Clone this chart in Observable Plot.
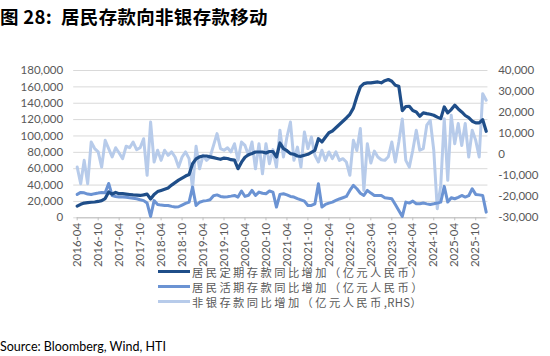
<!DOCTYPE html>
<html>
<head>
<meta charset="utf-8">
<script src="https://cdn.jsdelivr.net/npm/d3@7"></script>
<script src="https://cdn.jsdelivr.net/npm/@observablehq/plot@0.6"></script>
<style>
  html, body { margin: 0; padding: 0; background: #fff; }
  body { width: 550px; height: 356px; position: relative; overflow: hidden; font-family: Lato, "Noto Sans CJK SC", sans-serif; }
  #title { position: absolute; left: 0; top: 3px; font-family: "Noto Sans CJK SC", sans-serif; font-weight: bold; font-size: 18.5px; color: #000; white-space: nowrap; letter-spacing: 0.3px; }
  #chart { position: absolute; left: 0; top: 30px; }
  #legend { position: absolute; left: 158px; top: 264px; font-family: "Noto Sans CJK SC", sans-serif; font-size: 11.3px; color: #595959; }
  .row { height: 15px; display: flex; align-items: center; white-space: nowrap; }
  .sw { width: 32px; height: 3px; margin-right: 2px; }
  .tx { letter-spacing: 2.4px; }
  .latin { letter-spacing: 0.3px; }
  #source { position: absolute; left: 0; top: 339px; font-family: Lato, sans-serif; font-size: 12.5px; color: #000; white-space: nowrap; }
</style>
</head>
<body>
<div id="title">图 28:&nbsp; 居民存款向非银存款移动</div>
<div id="chart"></div>
<div id="legend"></div>
<div id="source">Source: Bloomberg, Wind, HTI</div>
<script>
// Tick labels (every 6 months, first data point = 2016-04, monthly through 2026-01)
const tickLabels = ["2016-04","2016-10","2017-04","2017-10","2018-04","2018-10","2019-04","2019-10","2020-04","2020-10",
  "2021-04","2021-10","2022-04","2022-10","2023-04","2023-10","2024-04","2024-10","2025-04","2025-10"];

// 居民定期存款同比增加（亿元人民币）— left axis
const fixedDeposits = [
  14300, 16500, 18000, 18500, 19000, 19300, 20000, 21000, 23500, 31500,
  29000, 31000, 29500, 29500, 29000, 28500, 28000, 27800, 27300, 28000,
  29000, 23000, 28500, 32000, 33500, 35000, 36500, 40000, 43000, 46000,
  48500, 51000, 53000, 66000, 72000, 74500, 75500, 75500, 74500, 73500,
  72500, 71500, 73000, 72500, 71000, 70500, 60000, 68000, 74000, 77000,
  78500, 80400, 80400, 80400, 79200, 81000, 81000, 74300, 91400, 84500,
  82000, 78400, 77600, 75500, 75100, 76500, 77600, 80000, 82400, 96700,
  92700, 98500, 104000, 106100, 110000, 114000, 118000, 122000, 126500, 134000,
  148000, 160000, 164000, 164900, 164900, 165500, 166000, 165000, 167500, 169000,
  166900, 162000, 160800, 131000, 136000, 136300, 131000, 129400, 124100, 128200,
  127300, 126500, 125300, 123000, 121200, 135500, 128200, 132200, 137600, 133000,
  129400, 125000, 122400, 118000, 116000, 115900, 120000, 105700
];

// 居民活期存款同比增加（亿元人民币）— left axis
const demandDeposits = [
  28600, 31000, 30500, 29000, 28500, 29500, 30200, 31000, 30500, 42000,
  27300, 26000, 25300, 25300, 25000, 24500, 24000, 23300, 22000, 21000,
  18000, 1600, 21000, 16300, 15500, 15100, 15100, 14000, 13100, 13500,
  15500, 17500, 19200, 37500, 15100, 19000, 20400, 21000, 22000, 27000,
  28000, 26100, 25300, 25800, 26500, 27300, 25300, 32700, 26100, 27500,
  33500, 27300, 31400, 30000, 29400, 32700, 31400, 13100, 28600, 29400,
  28000, 26100, 25300, 23500, 22000, 20400, 15100, 15100, 17100, 41600,
  13100, 16300, 18000, 19200, 21200, 23000, 24500, 26100, 33500, 39600,
  35500, 30000, 27300, 33500, 30200, 27300, 27300, 27300, 24500, 24000,
  23300, 16300, 9000, 1600, 19200, 18000, 20400, 17100, 17100, 18000,
  17000, 16300, 17100, 18000, 19200, 38400, 19200, 24500, 23300, 25000,
  27300, 25300, 27000, 35500, 28600, 28000, 27300, 6900
];

// 非银存款同比增加（亿元人民币, RHS）— right axis
const nonBankDeposits = [
  -5900, -13800, -2700, -13800, 6000, 2900, 1300, -5900, 6800, 2900,
  -1100, 3300, 800, -1900, 4000, 3300, 6000, 2400, 3300, 7600,
  -9800, 15500, -3500, 2100, -2700, 2100, -300, 1300, -1100, -5900,
  -1100, 1300, -1900, -16000, 4000, -6700, -300, -2700, -1100, 4400,
  10000, 2900, 2100, 3300, 1300, 5200, -2700, 6000, 4400, -300,
  6000, -6700, 5200, -9100, 5200, -4300, 2400, -5900, 11600, -1100,
  8400, 15500, -2700, 3600, -5900, 10800, 2900, 8400, -300, -3500,
  2100, -2700, 1300, -1900, 1300, -2700, -1900, -3500, -9800, 6800,
  2000, 12400, -17000, 5200, -4000, 1700, -1100, -2400, -2700, -1000,
  6000, -3500, 6000, 17000, -2700, -5900, 2100, 11600, 2100, 2900,
  14000, 16300, 2100, -25700, -14600, 17100, -12200, 18700, 5200, 14800,
  4400, 14800, -1100, 11600, 6800, -1100, 29000, 25900
];

const leftTicks = [0, 20000, 40000, 60000, 80000, 100000, 120000, 140000, 160000, 180000];
const rightTicks = [-30000, -20000, -10000, 0, 10000, 20000, 30000, 40000];

const seriesNames = ["居民定期存款同比增加（亿元人民币）", "居民活期存款同比增加（亿元人民币）", "非银存款同比增加（亿元人民币,RHS）"];
const seriesColors = ["#1f4e89", "#6b93d3", "#b7cbea"];

// map the right axis (-30000..40000) onto the left domain (0..180000)
const L0 = 0, L1 = 180000, R0 = -30000, R1 = 40000;
const toLeft = r => L0 + (r - R0) * (L1 - L0) / (R1 - R0);
const fromLeft = l => R0 + (l - L0) * (R1 - R0) / (L1 - L0);
const fmt = v => d3.format(",")(v).replace("\u2212", "-");

const rows = [];
fixedDeposits.forEach((v, i) => rows.push({i, v, s: seriesNames[0]}));
demandDeposits.forEach((v, i) => rows.push({i, v, s: seriesNames[1]}));
const nb = nonBankDeposits.map((v, i) => ({i, v: toLeft(v), s: seriesNames[2]}));

const n = fixedDeposits.length;
const chart = Plot.plot({
  width: 550,
  height: 240,
  marginTop: 40,
  marginBottom: 52.7,
  marginLeft: 76.7,
  marginRight: 64.3,
  style: {fontFamily: "Lato, sans-serif", fontSize: "11.5px", color: "#595959", background: "#fff", overflow: "visible"},
  x: {type: "linear", domain: [0, n - 1]},
  y: {domain: [L0, L1]},
  color: {domain: seriesNames, range: seriesColors},
  marks: [
    Plot.gridY(leftTicks, {stroke: "#d9d9d9", strokeOpacity: 1, x1: -1, x2: n - 0.5}),
    Plot.ruleY([0], {stroke: "#bfbfbf"}),
    Plot.line(nb, {x: "i", y: "v", stroke: "s", strokeWidth: 3, strokeLinejoin: "round"}),
    Plot.line(rows.filter(d => d.s === seriesNames[1]), {x: "i", y: "v", stroke: "s", strokeWidth: 3, strokeLinejoin: "round"}),
    Plot.line(rows.filter(d => d.s === seriesNames[0]), {x: "i", y: "v", stroke: "s", strokeWidth: 3.2, strokeLinejoin: "round"}),
    Plot.axisY({anchor: "left", ticks: leftTicks, tickFormat: fmt, tickSize: 0, tickPadding: 14, label: null}),
    Plot.axisY({anchor: "right", ticks: rightTicks.map(toLeft), tickFormat: d => fmt(Math.round(fromLeft(d))), tickSize: 0, tickPadding: 12, label: null}),
    Plot.axisX({ticks: d3.range(0, n, 6), tickFormat: i => tickLabels[i / 6], tickRotate: -90, tickSize: 3, tickPadding: 2, stroke: "#bfbfbf", label: null})
  ]
});
document.getElementById("chart").appendChild(chart);

const legend = document.getElementById("legend");
seriesNames.forEach((name, k) => {
  const row = document.createElement("div");
  row.className = "row";
  const sw = document.createElement("span");
  sw.className = "sw";
  sw.style.background = seriesColors[k];
  const tx = document.createElement("span");
  tx.className = "tx";
  // keep the Latin part (",RHS") at normal spacing, CJK letter-spaced
  const parts = name.split(/(,RHS)/);
  parts.forEach(p => {
    if (!p) return;
    const s = document.createElement("span");
    if (p === ",RHS") s.className = "latin";
    s.textContent = p;
    tx.appendChild(s);
  });
  row.appendChild(sw);
  row.appendChild(tx);
  legend.appendChild(row);
});
</script>
</body>
</html>
